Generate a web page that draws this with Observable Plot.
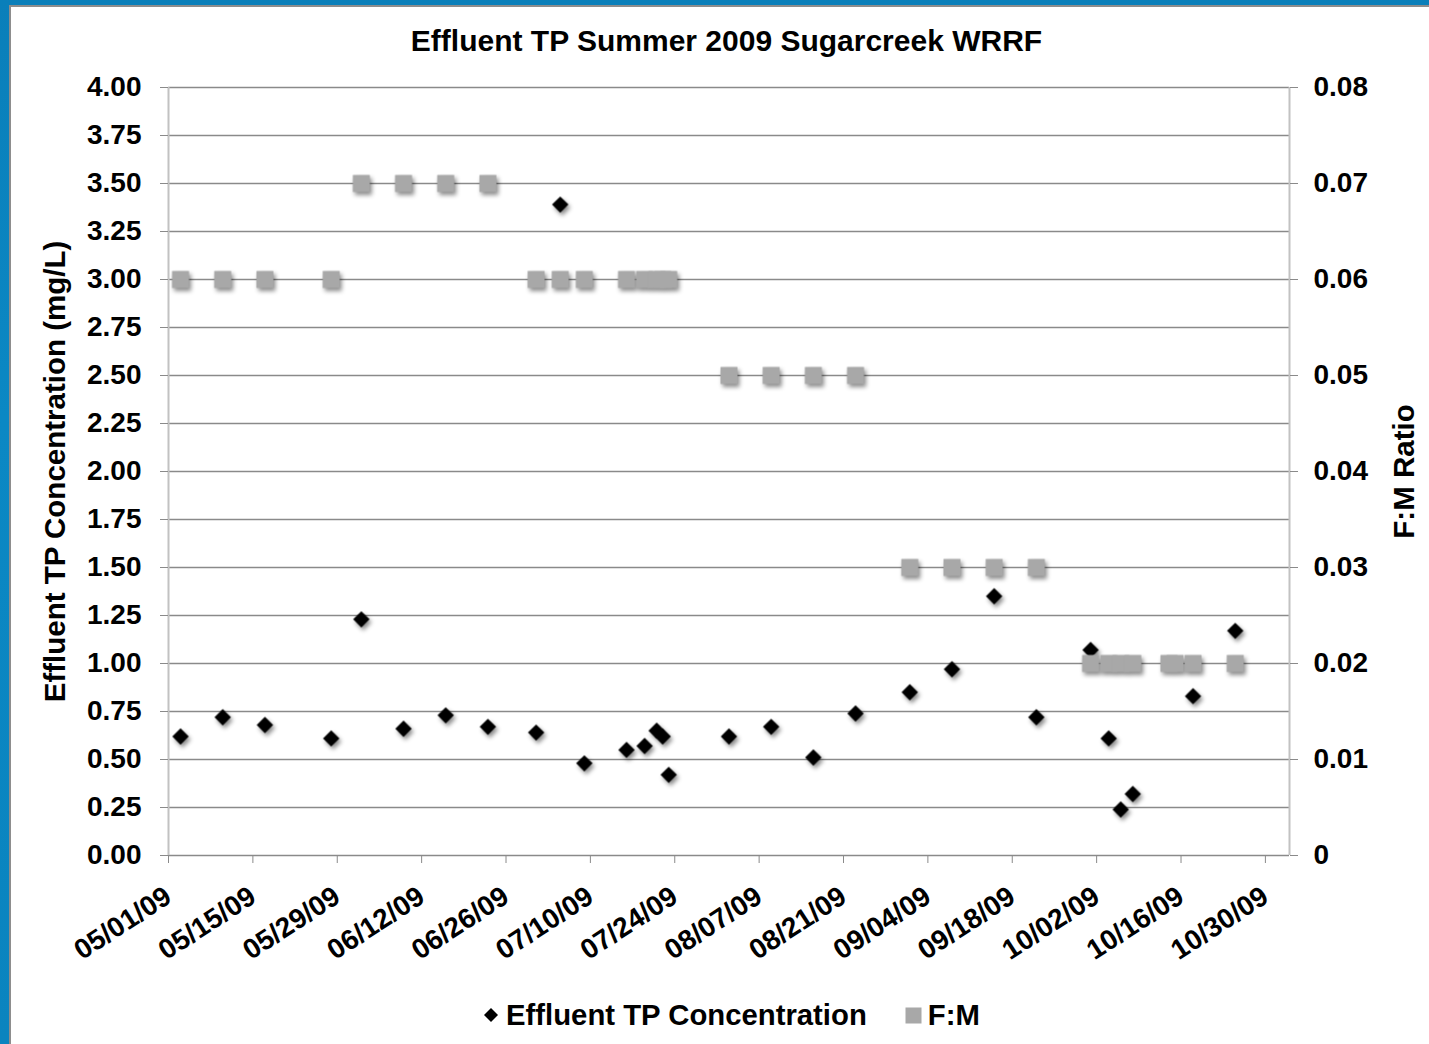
<!DOCTYPE html>
<html>
<head>
<meta charset="utf-8">
<script src="https://cdn.jsdelivr.net/npm/d3@7"></script>
<script src="https://cdn.jsdelivr.net/npm/@observablehq/plot@0.6"></script>
<style>
  html, body { margin: 0; padding: 0; }
  body { width: 1429px; height: 1044px; overflow: hidden; position: relative; font-family: "Liberation Sans", Arial, sans-serif; }
  #bg { position: absolute; left: 0; top: 0; width: 1429px; height: 1044px; background: linear-gradient(#0a7fba, #0b88c4 40%, #0a84bf); }
  #panel { position: absolute; left: 9px; top: 5px; right: 0; bottom: 0; background: #ffffff; border-left: 2px solid #8d8d8d; border-top: 2px solid #8d8d8d; }
  #title { position: absolute; left: 12px; top: 24px; width: 1429px; text-align: center; font-size: 30px; font-weight: bold; color: #000; white-space: nowrap; }
  #chart { position: absolute; left: 0; top: 62px; }
  #legend { position: absolute; left: 482px; top: 998px; display: flex; align-items: center; font-size: 29.3px; font-weight: bold; color: #000; white-space: nowrap; }
  #legend .item { display: flex; align-items: center; }
  #legend svg { display: block; }
</style>
</head>
<body>
<div id="bg"></div>
<div id="panel"></div>
<div id="title">Effluent TP Summer 2009 Sugarcreek WRRF</div>
<div id="chart"></div>
<div id="legend"></div>
<script>
// ---- Data ----
const tpDates = ["2009-05-03","2009-05-10","2009-05-17","2009-05-28","2009-06-02","2009-06-09","2009-06-16","2009-06-23",
  "2009-07-01","2009-07-05","2009-07-09","2009-07-16","2009-07-19","2009-07-21","2009-07-22","2009-07-23",
  "2009-08-02","2009-08-09","2009-08-16","2009-08-23","2009-09-01","2009-09-08","2009-09-15","2009-09-22",
  "2009-10-01","2009-10-04","2009-10-06","2009-10-08","2009-10-18","2009-10-25"];
const tpValues = [0.62,0.72,0.68,0.61,1.23,0.66,0.73,0.67,
  0.64,3.39,0.48,0.55,0.57,0.65,0.62,0.42,
  0.62,0.67,0.51,0.74,0.85,0.97,1.35,0.72,
  1.07,0.61,0.24,0.32,0.83,1.17];

const fmDates = ["2009-05-03","2009-05-10","2009-05-17","2009-05-28","2009-06-02","2009-06-09","2009-06-16","2009-06-23",
  "2009-07-01","2009-07-05","2009-07-09","2009-07-16","2009-07-19","2009-07-21","2009-07-22","2009-07-23",
  "2009-08-02","2009-08-09","2009-08-16","2009-08-23","2009-09-01","2009-09-08","2009-09-15","2009-09-22",
  "2009-10-01","2009-10-04","2009-10-06","2009-10-08","2009-10-14","2009-10-15","2009-10-18","2009-10-25"];
const fmValues = [0.06,0.06,0.06,0.06,0.07,0.07,0.07,0.07,
  0.06,0.06,0.06,0.06,0.06,0.06,0.06,0.06,
  0.05,0.05,0.05,0.05,0.03,0.03,0.03,0.03,
  0.02,0.02,0.02,0.02,0.02,0.02,0.02,0.02];

const xTickDates = ["2009-05-01","2009-05-15","2009-05-29","2009-06-12","2009-06-26","2009-07-10","2009-07-24",
  "2009-08-07","2009-08-21","2009-09-04","2009-09-18","2009-10-02","2009-10-16","2009-10-30"];
const xDomain = ["2009-05-01","2009-11-03"];
const leftTicks = [0,0.25,0.5,0.75,1,1.25,1.5,1.75,2,2.25,2.5,2.75,3,3.25,3.5,3.75,4];
const rightTicks = [0,0.01,0.02,0.03,0.04,0.05,0.06,0.07,0.08];
const leftMax = 4, rightMax = 0.08;
const ratio = leftMax / rightMax;

const leftTitle = "Effluent TP Concentration (mg/L)";
const rightTitle = "F:M Ratio";
const seriesNames = ["Effluent TP Concentration", "F:M"];

// ---- Build tables ----
const tp = tpDates.map((d, i) => ({date: new Date(d), v: tpValues[i]}));
const fm = fmDates.map((d, i) => ({date: new Date(d), v: fmValues[i]}));
const xTicks = xTickDates.map(d => new Date(d));
const fmt = d3.utcFormat("%m/%d/%y");

const gridColor = "#8a8a8a";
const axisColor = "#c2c2c2";

const chart = Plot.plot({
  width: 1429,
  height: 920,
  marginLeft: 168,
  marginRight: 140,
  marginTop: 25,
  marginBottom: 127,
  style: {fontFamily: "Liberation Sans, Arial, sans-serif", fontSize: "28px", fontWeight: "bold", color: "#000", background: "transparent", overflow: "visible"},
  x: {type: "utc", domain: xDomain.map(d => new Date(d))},
  y: {domain: [0, leftMax]},
  marks: [
    Plot.ruleY(leftTicks, {stroke: gridColor, strokeWidth: 1.6}),
    Plot.ruleX([new Date(xDomain[0])], {stroke: axisColor, strokeWidth: 2}),
    Plot.ruleX([new Date(xDomain[1])], {stroke: axisColor, strokeWidth: 2}),
    Plot.axisY(leftTicks, {anchor: "left", tickFormat: d => d.toFixed(2), tickSize: 8, tickPadding: 19, stroke: gridColor, fill: "#000", label: null}),
    Plot.axisY(rightTicks.map(t => t * ratio), {anchor: "right", tickFormat: d => { const r = d / ratio; return r === 0 ? "0" : r.toFixed(2); }, tickSize: 8, tickPadding: 16, stroke: gridColor, fill: "#000", label: null}),
    Plot.axisX(xTicks, {anchor: "bottom", tickFormat: fmt, tickRotate: -33, tickSize: 8, tickPadding: 30, stroke: gridColor, fill: "#000", label: null}),
    Plot.text([leftTitle], {frameAnchor: "left", text: d => d, rotate: -90, dx: -113, textAnchor: "middle", lineAnchor: "middle", fontSize: 29.5, fontWeight: "bold", fill: "#000"}),
    Plot.text([rightTitle], {frameAnchor: "right", text: d => d, rotate: -90, dx: 115, textAnchor: "middle", lineAnchor: "middle", fontSize: 29.5, fontWeight: "bold", fill: "#000"}),
    Plot.dot(tp, {x: "date", y: "v", symbol: "diamond2", r: 7.4, fill: "#000"}),
    Plot.dot(fm, {x: "date", y: d => d.v * ratio, symbol: "square", r: 9.6, fill: "#a8a8a8"})
  ]
});
chart.querySelectorAll('g[aria-label="dot"]').forEach(g => {
  g.style.filter = "drop-shadow(2px 3px 2px rgba(0,0,0,0.45))";
});
document.getElementById("chart").appendChild(chart);

// ---- Legend ----
const legend = d3.select("#legend");
const it1 = legend.append("div").attr("class", "item");
const s1 = it1.append("svg").attr("width", 18).attr("height", 18).style("margin-right", "6px");
s1.append("path").attr("d", "M9,2 L16,9 L9,16 L2,9 Z").attr("fill", "#000");
it1.append("span").text(seriesNames[0]);
const it2 = legend.append("div").attr("class", "item").style("margin-left", "38px");
const s2 = it2.append("svg").attr("width", 17).attr("height", 17).style("margin-right", "6px");
s2.append("rect").attr("x", 0.5).attr("y", 0.5).attr("width", 16).attr("height", 16).attr("fill", "#a8a8a8");
it2.append("span").text(seriesNames[1]);
</script>
</body>
</html>
